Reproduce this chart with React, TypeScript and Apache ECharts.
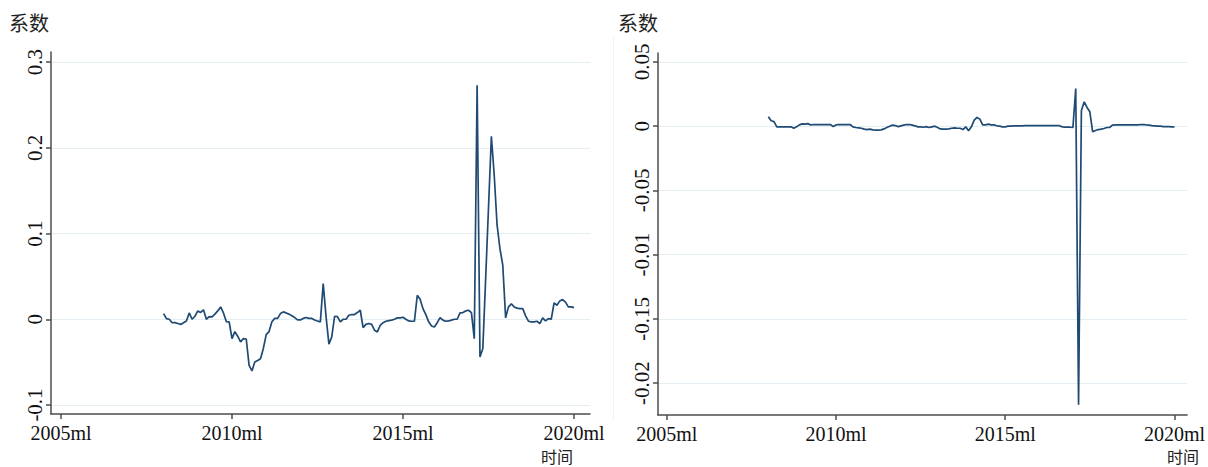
import React, { useEffect, useRef } from "react";
import * as echarts from "echarts";

// months counted from 2005m1; series start at 2008m1
const startMonth = 36;

const leftValues = [
  0.0066, 0.0008, 0.0, -0.004, -0.004, -0.005, -0.006, -0.004, -0.002, 0.0074,
  0.0, 0.0035, 0.0097, 0.008, 0.011, 0.0, 0.003, 0.0027, 0.006, 0.0097,
  0.0144, 0.0074, -0.0027, -0.003, -0.0226, -0.0144, -0.0198, -0.0264, -0.0226, -0.023,
  -0.0537, -0.0603, -0.0498, -0.048, -0.046, -0.034, -0.018, -0.0144, -0.003, 0.001,
  0.001, 0.0066, 0.0086, 0.0074, 0.006, 0.004, 0.002, -0.0008, -0.0008, 0.001,
  0.002, 0.001, 0.001, -0.0008, -0.002, -0.003, 0.0417, 0.003, -0.029, -0.0206,
  0.0035, 0.003, -0.003, 0.0, 0.0, 0.0047, 0.0055, 0.0055, 0.0078, 0.0105,
  -0.0097, -0.006, -0.005, -0.006, -0.0128, -0.0148, -0.007, -0.004, -0.0023, -0.0016,
  -0.001, 0.0, 0.0016, 0.0016, 0.0023, 0.0, -0.002, -0.0023, -0.0023, 0.028,
  0.0233, 0.0124, 0.0054, -0.003, -0.0078, -0.009, -0.004, 0.002, -0.001, -0.0023,
  -0.002, -0.001, 0.0, 0.0, 0.0074, 0.0078, 0.0097, 0.0105, 0.0078, -0.0226,
  0.273, -0.044, -0.034, 0.048, 0.131, 0.2135, 0.168, 0.11, 0.0825, 0.063,
  0.0016, 0.0144, 0.018, 0.0144, 0.013, 0.0124, 0.0124, 0.004, -0.0023, -0.003,
  -0.003, -0.0023, -0.005, 0.0016, -0.002, 0.0008, 0.0, 0.019, 0.0163, 0.0214,
  0.023, 0.02, 0.0144, 0.0144, 0.0136,
];

const rightValues = [
  0.0073, 0.0042, 0.0036, -0.0005, -0.0005, -0.0005, -0.0005, -0.0005, -0.0005, -0.0016,
  -0.0005, 0.001, 0.0018, 0.0016, 0.002, 0.001, 0.0013, 0.0013, 0.0013, 0.0013,
  0.0013, 0.0013, 0.0013, -0.0003, 0.001, 0.0013, 0.0013, 0.0013, 0.0013, 0.0013,
  -0.0005, -0.001, -0.0013, -0.0016, -0.0023, -0.0026, -0.0023, -0.0029, -0.0031, -0.0031,
  -0.0029, -0.0021, -0.001, 0.0, 0.0008, 0.0005, -0.0003, 0.0003, 0.0008, 0.0013,
  0.0013, 0.0008, 0.0003, -0.0005, -0.0005, -0.0008, -0.0003, -0.001, -0.0005, 0.0,
  -0.001, -0.0021, -0.0023, -0.0023, -0.0021, -0.0016, -0.0013, -0.0016, -0.0016, -0.0026,
  -0.0005, -0.0036, -0.0005, 0.0047, 0.0068, 0.0055, 0.001, 0.001, 0.0016, 0.001,
  0.001, 0.0003, 0.0, -0.0005, -0.0005, 0.0, 0.0, 0.0003, 0.0003, 0.0003,
  0.0003, 0.0005, 0.0005, 0.0005, 0.0005, 0.0005, 0.0005, 0.0005, 0.0005, 0.0005,
  0.0005, 0.0005, 0.0005, 0.0005, -0.0003, -0.0008, -0.0008, -0.0008, -0.001, 0.0294,
  -0.217, 0.012, 0.019, 0.0146, 0.0112, -0.0044, -0.0034, -0.0026, -0.0023, -0.0018,
  -0.001, -0.001, 0.0008, 0.001, 0.001, 0.001, 0.001, 0.001, 0.001, 0.001,
  0.001, 0.001, 0.0013, 0.0013, 0.001, 0.0008, 0.0005, 0.0003, 0.0, 0.0,
  -0.0003, -0.0003, -0.0003, -0.0005, -0.0005,
];

const xTickValues = [0, 60, 120, 180];
const xTickLabels = ["2005ml", "2010ml", "2015ml", "2020ml"];
const leftYTickValues = [-0.1, 0, 0.1, 0.2, 0.3];
const leftYTickLabels = ["-0.1", "0", "0.1", "0.2", "0.3"];
const rightYTickValues = [-0.2, -0.15, -0.1, -0.05, 0, 0.05];
const rightYTickLabels = ["-0.02", "-0.15", "-0.01", "-0.05", "0", "0.05"];
const yTitle = "系数";
const xTitle = "时间";

const SERIF = "'Liberation Serif', 'DejaVu Serif', serif";
const CJK = "'Noto Sans CJK SC', sans-serif";
const AXIS_COLOR = "#4d4d4d";
const GRID_COLOR = "#e4eef2";
const LINE_COLOR = "#1f4a74";

function labelFor(values: number[], labels: string[]) {
  return (v: number) => {
    for (let i = 0; i < values.length; i++) {
      if (Math.abs(values[i] - v) < 1e-9) return labels[i];
    }
    return "";
  };
}

function toPoints(values: number[]) {
  return values.map((v, i) => [startMonth + i, v]);
}

function xAxisDef(gridIndex: number, min: number, max: number) {
  return {
    type: "value",
    gridIndex,
    min,
    max,
    axisLine: { show: true, onZero: false, lineStyle: { color: AXIS_COLOR, width: 1.5 } },
    axisTick: {
      show: true,
      length: 5,
      customValues: xTickValues,
      lineStyle: { color: AXIS_COLOR, width: 1.5 },
    },
    axisLabel: {
      customValues: xTickValues,
      formatter: labelFor(xTickValues, xTickLabels),
      fontFamily: SERIF,
      fontSize: 20,
      lineHeight: 20,
      color: "#111",
      margin: 9,
    },
    splitLine: { show: false },
  };
}

function yAxisDef(
  gridIndex: number,
  min: number,
  max: number,
  ticks: number[],
  labels: string[]
) {
  return {
    type: "value",
    gridIndex,
    min,
    max,
    axisLine: { show: true, onZero: false, lineStyle: { color: AXIS_COLOR, width: 1.5 } },
    axisTick: {
      show: true,
      length: 5,
      customValues: ticks,
      lineStyle: { color: AXIS_COLOR, width: 1.5 },
    },
    axisLabel: {
      customValues: ticks,
      formatter: labelFor(ticks, labels),
      rotate: 90,
      fontFamily: SERIF,
      fontSize: 21,
      color: "#111",
      margin: 6,
    },
    splitLine: { show: true, lineStyle: { color: GRID_COLOR, width: 1 } },
  };
}

export default function App() {
  const ref = useRef<HTMLDivElement>(null);

  useEffect(() => {
    document.body.style.margin = "0";
    if (!ref.current) return;
    const chart = echarts.init(ref.current, undefined, { renderer: "svg" });
    chart.setOption({
      animation: false,
      backgroundColor: "#ffffff",
      grid: [
        { left: 51, top: 52, width: 539, height: 362 },
        { left: 658, top: 53, width: 539, height: 362 },
      ],
      xAxis: [xAxisDef(0, -3.5, 185.6), xAxisDef(1, -3.13, 184.5)],
      yAxis: [
        yAxisDef(0, -0.1105, 0.3117, leftYTickValues, leftYTickLabels),
        yAxisDef(1, -0.2249, 0.057, rightYTickValues, rightYTickLabels),
      ],
      series: [
        {
          type: "line",
          xAxisIndex: 0,
          yAxisIndex: 0,
          data: toPoints(leftValues),
          showSymbol: false,
          lineStyle: { color: LINE_COLOR, width: 1.7 },
          silent: true,
        },
        {
          type: "line",
          xAxisIndex: 1,
          yAxisIndex: 1,
          data: toPoints(rightValues),
          showSymbol: false,
          lineStyle: { color: LINE_COLOR, width: 1.7 },
          silent: true,
        },
      ],
      graphic: [
        {
          type: "line",
          shape: { x1: 613.5, y1: 37, x2: 613.5, y2: 420 },
          style: { stroke: "#f3f3f3", lineWidth: 1 },
          silent: true,
        },
        {
          type: "text",
          left: 9,
          top: 12,
          style: { text: yTitle, font: `20px ${CJK}`, fill: "#222" },
        },
        {
          type: "text",
          left: 618,
          top: 12,
          style: { text: yTitle, font: `20px ${CJK}`, fill: "#222" },
        },
        {
          type: "text",
          left: 541,
          top: 447,
          style: { text: xTitle, font: `16px ${CJK}`, fill: "#222", lineHeight: 18 },
        },
        {
          type: "text",
          left: 1167,
          top: 447,
          style: { text: xTitle, font: `16px ${CJK}`, fill: "#222", lineHeight: 18 },
        },
      ],
    });
    return () => chart.dispose();
  }, []);

  return <div ref={ref} style={{ width: 1208, height: 467 }} />;
}
